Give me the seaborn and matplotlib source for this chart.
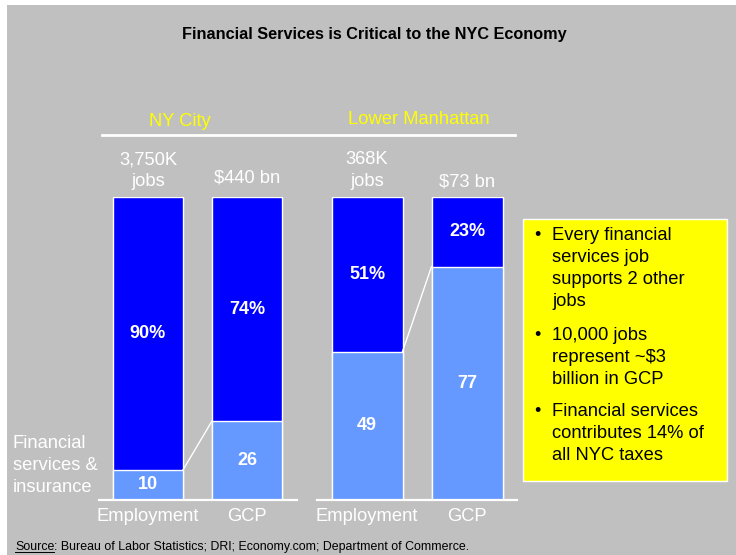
import matplotlib
matplotlib.use("Agg")
import matplotlib.pyplot as plt
import seaborn as sns
from matplotlib.lines import Line2D
from matplotlib.patches import Rectangle

plt.rcParams["font.family"] = ["Liberation Sans", "DejaVu Sans"]

# data
metrics = ["Employment", "GCP"]
ny_fin_share = [10, 26]
ny_other_share = [90, 74]
ny_totals = ["3,750K\njobs", "$440 bn"]
lm_fin_share = [49, 77]
lm_other_share = [51, 23]
lm_totals = ["368K\njobs", "$73 bn"]
regions = ["NY City", "Lower Manhattan"]
bullets = [
    ["Every financial", "services job", "supports 2 other", "jobs"],
    ["10,000 jobs", "represent ~$3", "billion in GCP"],
    ["Financial services", "contributes 14% of", "all NYC taxes"],
]
source_rest = ": Bureau of Labor Statistics; DRI; Economy.com; Department of Commerce."

DARK = "#0000ff"
LIGHT = "#6699ff"
BG = "#c0c0c0"
W, H = 736, 555


def fx(x):
    return x / W


def fy(y):
    return 1 - y / H


fig = plt.figure(figsize=(W / 100, H / 100), dpi=100, facecolor="white")
fig.add_artist(Rectangle((fx(7), 0), 1 - fx(7), fy(5), transform=fig.transFigure,
                         facecolor=BG, edgecolor="none", zorder=-10))

fig.text(fx(374), fy(35), "Financial Services is Critical to the NYC Economy",
         ha="center", va="center", fontsize=11.7, fontweight="bold", color="black")


def draw_panel(left, width, fin, other, totals, name, name_xy, gcp_y):
    ax = fig.add_axes([fx(left), fy(500), fx(width), 303 / H])
    full = [f + o for f, o in zip(fin, other)]
    bw = 0.71
    sns.barplot(x=metrics, y=full, color=DARK, saturation=1, width=bw,
                edgecolor="white", linewidth=1, ax=ax)
    sns.barplot(x=metrics, y=fin, color=LIGHT, saturation=1, width=bw,
                edgecolor="white", linewidth=1, ax=ax)
    ax.set_ylim(0, 100)
    ax.set_xlim(-0.5, 1.5)
    ax.set_facecolor("none")
    for s in ["left", "top", "right"]:
        ax.spines[s].set_visible(False)
    ax.spines["bottom"].set_color("white")
    ax.spines["bottom"].set_linewidth(1.6)
    ax.set_yticks([])
    ax.set_xlabel("")
    ax.set_ylabel("")
    ax.tick_params(axis="x", length=0, pad=6, labelsize=13.2, labelcolor="white")

    # connector from employment share to GCP share
    ax.plot([bw / 2, 1 - bw / 2], [fin[0], fin[1]], color="white", lw=1, clip_on=False)

    for i in range(len(metrics)):
        ax.text(i, fin[i] / 2, f"{fin[i]}", ha="center", va="center",
                color="white", fontsize=13, fontweight="bold")
        ax.text(i, fin[i] + other[i] / 2, f"{other[i]}%", ha="center", va="center",
                color="white", fontsize=13, fontweight="bold")
        ypos = 108.7 if "\n" in totals[i] else gcp_y
        ax.text(i, ypos, totals[i], ha="center", va="center", color="white",
                fontsize=13.2, linespacing=1.4, clip_on=False)

    fig.text(fx(name_xy[0]), fy(name_xy[1]), name, ha="center", va="center",
             color="#ffff00", fontsize=13.2)
    return ax


draw_panel(98.5, 198, ny_fin_share, ny_other_share, ny_totals, regions[0], (180, 122), 106.3)
draw_panel(317, 200, lm_fin_share, lm_other_share, lm_totals, regions[1], (419, 119), 105.0)

fig.add_artist(Line2D([fx(102), fx(515)], [fy(134.5), fy(134.5)], color="white",
                      lw=2, transform=fig.transFigure))

fig.text(fx(13), fy(465.5), "Financial\nservices &\ninsurance", ha="left", va="center",
         color="white", fontsize=13.2, linespacing=1.37)

# yellow call-out box
fig.add_artist(Rectangle((fx(523), fy(481)), fx(727 - 523), (481 - 219) / H,
                         transform=fig.transFigure, facecolor="#ffff00",
                         edgecolor="white", lw=1))
para_tops = [235, 335, 411]
for top, lines in zip(para_tops, bullets):
    fig.text(fx(537), fy(top), "\u2022", ha="center", va="center", fontsize=13)
    for k, line in enumerate(lines):
        fig.text(fx(552), fy(top + k * 22.3), line, ha="left", va="center",
                 fontsize=13.2, color="black")

# source line with underlined "Source"
renderer = fig.canvas.get_renderer()
t1 = fig.text(fx(15), fy(550), "Source", ha="left", va="baseline", fontsize=8.9)
bb = t1.get_window_extent(renderer)
fig.text(bb.x1 / W, fy(550), source_rest, ha="left", va="baseline", fontsize=8.9)
fig.add_artist(Line2D([bb.x0 / W, bb.x1 / W], [fy(551.5), fy(551.5)], color="black",
                      lw=0.7, transform=fig.transFigure))

fig.savefig("out.png", dpi=100, facecolor="white")
